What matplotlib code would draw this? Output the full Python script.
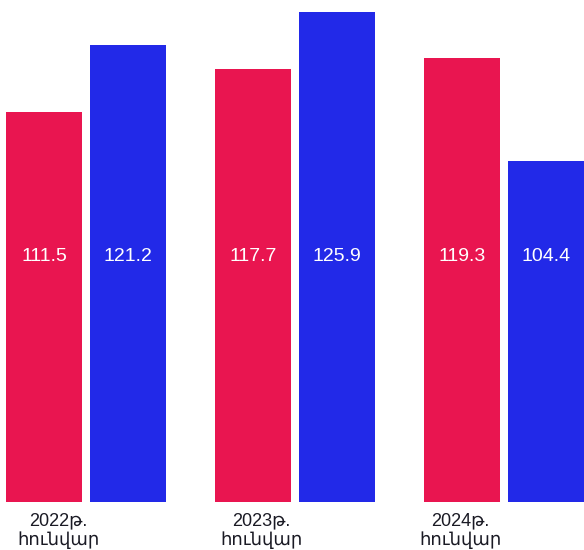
import matplotlib.pyplot as plt
import numpy as np

plt.rcParams['font.family'] = ['Liberation Sans', 'DejaVu Sans']

years = ['2022թ.\nհունվար', '2023թ.\nհունվար', '2024թ.\nհունվար']
red_vals = [111.5, 117.7, 119.3]
blue_vals = [121.2, 125.9, 104.4]

red = '#E91550'
blue = '#2229E8'

fig = plt.figure(figsize=(5.84, 5.5), dpi=100)
ax = fig.add_axes([0, 48 / 550, 1, 502 / 550])

x = np.arange(len(years))
w = 0.364
off = 0.2
base = 55

ax.bar(x - off, np.array(red_vals) - base, w, bottom=base, color=red)
ax.bar(x + off, np.array(blue_vals) - base, w, bottom=base, color=blue)

for i in x:
    ax.text(i - off, 0.49, f'{red_vals[i]:.1f}', transform=ax.get_xaxis_transform(),
            ha='center', va='center', color='white', fontsize=14)
    ax.text(i + off, 0.49, f'{blue_vals[i]:.1f}', transform=ax.get_xaxis_transform(),
            ha='center', va='center', color='white', fontsize=14)

# year labels sit a bit left of the group centre
lab_off = [-0.13, -0.16, -0.21]
for i, lab in enumerate(years):
    ax.text(i + lab_off[i], -0.02, lab, transform=ax.get_xaxis_transform(),
            ha='center', va='top', color='#1a1a24', fontsize=13, linespacing=1.2)

ax.set_xlim(-0.411, 2.383)
ax.set_ylim(base, base + 502 / 6.91)
ax.axis('off')

fig.savefig('out.png', dpi=100)
